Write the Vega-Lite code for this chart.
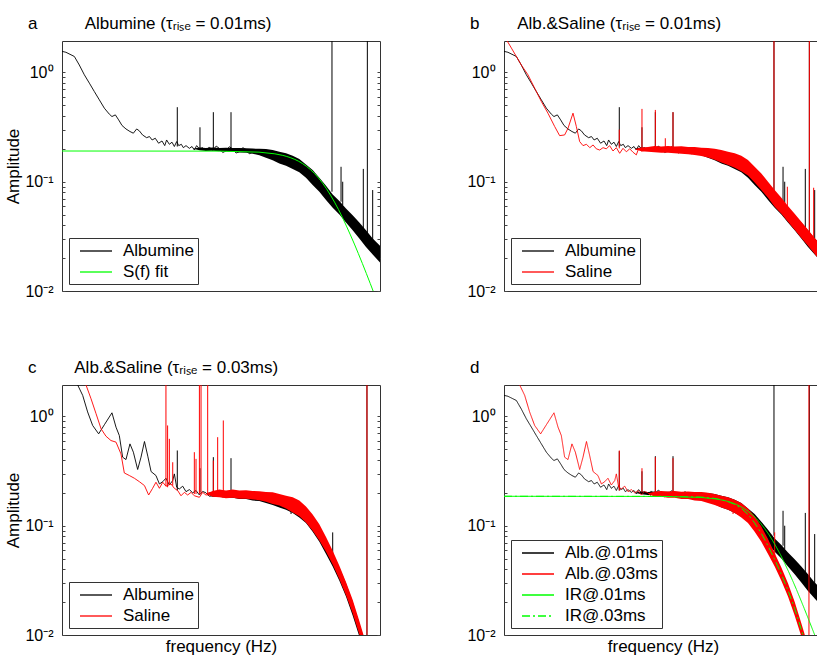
{
  "$schema": "https://vega.github.io/schema/vega-lite/v6.json",
  "background": "white",
  "padding": {"left": 4, "top": 14, "right": 0, "bottom": 4},
  "config": {
    "font": "Liberation Sans",
    "view": {"stroke": "#333", "strokeWidth": 1},
    "title": {"font": "Liberation Sans", "fontSize": 17, "fontWeight": "normal", "anchor": "start", "frame": "group", "dx": -34, "offset": 8, "color": "#000"},
    "axis": {"labelFont": "Liberation Sans", "titleFont": "Liberation Sans", "labelColor": "#000", "titleColor": "#000", "titleFontWeight": "normal", "grid": false},
    "axisX": {"labels": false, "ticks": false, "domain": false, "grid": false, "titleFontSize": 17, "titlePadding": 3, "titleColor": "#000"},
    "legend": {"orient": "bottom-left", "offset": 7, "padding": 4, "strokeColor": "#333", "fillColor": "#fff", "labelFont": "Liberation Sans", "labelFontSize": 17, "labelColor": "#000", "symbolType": "M-0.25,0H3.75", "symbolSize": 256, "symbolStrokeWidth": 1.3, "labelOffset": 32, "rowPadding": 4, "labelLimit": 300}
  },
  "datasets": {
    "alb01_line": [{"f":10,"a":1.56},{"f":11.2,"a":1.53},{"f":14.3,"a":1.40},{"f":16.5,"a":1.17},{"f":19.1,"a":0.952},{"f":22.1,"a":0.798},{"f":25.5,"a":0.669},{"f":29.5,"a":0.561},{"f":34.1,"a":0.471},{"f":39.4,"a":0.415},{"f":42.5,"a":0.395},{"f":46.9,"a":0.409},{"f":51.6,"a":0.368},{"f":56.9,"a":0.327},{"f":63.8,"a":0.304},{"f":71.6,"a":0.288},{"f":79.0,"a":0.278},{"f":86.9,"a":0.304},{"f":94.0,"a":0.292},{"f":103,"a":0.268},{"f":116,"a":0.253},{"f":126,"a":0.259},{"f":136,"a":0.241},{"f":149,"a":0.250},{"f":164,"a":0.225},{"f":181,"a":0.236},{"f":196,"a":0.214},{"f":207,"a":0.241},{"f":224,"a":0.220},{"f":242,"a":0.230},{"f":259,"a":0.210},{"f":277,"a":0.233},{"f":294,"a":0.214},{"f":317,"a":0.220},{"f":336,"a":0.205},{"f":363,"a":0.214},{"f":400,"a":0.202},{"f":432,"a":0.210},{"f":462,"a":0.195},{"f":494,"a":0.214},{"f":535,"a":0.200},{"f":588,"a":0.205},{"f":647,"a":0.191},{"f":713,"a":0.208},{"f":785,"a":0.193},{"f":870,"a":0.212},{"f":953,"a":0.202},{"f":1050,"a":0.185},{"f":1156,"a":0.191},{"f":1270,"a":0.209},{"f":1403,"a":0.200},{"f":1545,"a":0.183},{"f":1702,"a":0.188},{"f":1875,"a":0.205},{"f":2065,"a":0.197},{"f":2270,"a":0.180},{"f":2500,"a":0.186},{"f":2754,"a":0.198},{"f":3034,"a":0.188},{"f":3342,"a":0.180},{"f":3681,"a":0.182},{"f":4055,"a":0.186},{"f":4467,"a":0.176},{"f":5420,"a":0.166},{"f":6577,"a":0.158},{"f":7980,"a":0.150},{"f":9660,"a":0.140},{"f":11720,"a":0.125},{"f":14220,"a":0.109},{"f":17260,"a":0.0932},{"f":20940,"a":0.0781},{"f":25410,"a":0.0665},{"f":30830,"a":0.0577},{"f":37330,"a":0.0494},{"f":45290,"a":0.0424},{"f":54950,"a":0.0353},{"f":66680,"a":0.0302},{"f":80910,"a":0.0253},{"f":100000,"a":0.0216}],
    "alb01_band": [{"f":441,"hi":0.200,"lo":0.200},{"f":535,"hi":0.206,"lo":0.194},{"f":647,"hi":0.203,"lo":0.191},{"f":785,"hi":0.206,"lo":0.192},{"f":953,"hi":0.204,"lo":0.190},{"f":1156,"hi":0.205,"lo":0.189},{"f":1403,"hi":0.204,"lo":0.188},{"f":1702,"hi":0.203,"lo":0.185},{"f":2065,"hi":0.202,"lo":0.184},{"f":2500,"hi":0.201,"lo":0.180},{"f":3034,"hi":0.200,"lo":0.175},{"f":3681,"hi":0.199,"lo":0.166},{"f":4467,"hi":0.195,"lo":0.157},{"f":5420,"hi":0.188,"lo":0.147},{"f":6577,"hi":0.182,"lo":0.140},{"f":7980,"hi":0.173,"lo":0.131},{"f":9660,"hi":0.161,"lo":0.122},{"f":11720,"hi":0.144,"lo":0.109},{"f":14220,"hi":0.128,"lo":0.0932},{"f":17260,"hi":0.109,"lo":0.0810},{"f":20940,"hi":0.0919,"lo":0.0679},{"f":25410,"hi":0.0766,"lo":0.0577},{"f":30830,"hi":0.0665,"lo":0.0501},{"f":37330,"hi":0.0569,"lo":0.0424},{"f":45290,"hi":0.0494,"lo":0.0360},{"f":54950,"hi":0.0424,"lo":0.0302},{"f":66680,"hi":0.0360,"lo":0.0253},{"f":80910,"hi":0.0302,"lo":0.0216},{"f":100000,"hi":0.0259,"lo":0.0182}],
    "alb01_spk": [{"f":282,"b":0.210,"p":0.481},{"f":544,"b":0.202,"p":0.315},{"f":801,"b":0.202,"p":0.433},{"f":1336,"b":0.202,"p":0.433},{"f":24890,"b":0.081,"p":3},{"f":32360,"b":0.0656,"p":0.137},{"f":33960,"b":0.0611,"p":0.100},{"f":61660,"b":0.0324,"p":0.131},{"f":69340,"b":0.029,"p":3},{"f":80910,"b":0.0272,"p":0.0839}],
    "sal01_line": [{"f":10.4,"a":2.07},{"f":12.4,"a":1.67},{"f":14.3,"a":1.40},{"f":16.5,"a":1.17},{"f":20.0,"a":0.952},{"f":24.3,"a":0.718},{"f":29.5,"a":0.542},{"f":35.7,"a":0.424},{"f":43.4,"a":0.320},{"f":50.1,"a":0.264},{"f":57.9,"a":0.268},{"f":63.8,"a":0.308},{"f":73.8,"a":0.424},{"f":81.3,"a":0.320},{"f":89.5,"a":0.233},{"f":98.6,"a":0.214},{"f":109,"a":0.220},{"f":120,"a":0.205},{"f":132,"a":0.217},{"f":145,"a":0.200},{"f":160,"a":0.195},{"f":176,"a":0.205},{"f":194,"a":0.200},{"f":213,"a":0.214},{"f":235,"a":0.191},{"f":259,"a":0.205},{"f":285,"a":0.182},{"f":314,"a":0.202},{"f":346,"a":0.188},{"f":381,"a":0.200},{"f":420,"a":0.186},{"f":462,"a":0.176},{"f":494,"a":0.202},{"f":535,"a":0.191},{"f":647,"a":0.195},{"f":785,"a":0.200},{"f":953,"a":0.193},{"f":1156,"a":0.200},{"f":1403,"a":0.193},{"f":1702,"a":0.197},{"f":2065,"a":0.191},{"f":2500,"a":0.193},{"f":3034,"a":0.188},{"f":3681,"a":0.186},{"f":4467,"a":0.178},{"f":5420,"a":0.173},{"f":6577,"a":0.166},{"f":7980,"a":0.158},{"f":9660,"a":0.148},{"f":11720,"a":0.134},{"f":14220,"a":0.117},{"f":17260,"a":0.100},{"f":20940,"a":0.0839},{"f":25410,"a":0.0703},{"f":30830,"a":0.0600},{"f":37330,"a":0.0509},{"f":45290,"a":0.0430},{"f":54950,"a":0.0364},{"f":66680,"a":0.0306},{"f":80910,"a":0.0259},{"f":100000,"a":0.0216}],
    "sal01_band": [{"f":441,"hi":0.198,"lo":0.198},{"f":535,"hi":0.206,"lo":0.190},{"f":647,"hi":0.208,"lo":0.188},{"f":785,"hi":0.212,"lo":0.186},{"f":953,"hi":0.210,"lo":0.184},{"f":1156,"hi":0.212,"lo":0.184},{"f":1403,"hi":0.210,"lo":0.182},{"f":1702,"hi":0.211,"lo":0.180},{"f":2065,"hi":0.208,"lo":0.178},{"f":2500,"hi":0.208,"lo":0.176},{"f":3034,"hi":0.205,"lo":0.172},{"f":3681,"hi":0.203,"lo":0.167},{"f":4467,"hi":0.200,"lo":0.159},{"f":5420,"hi":0.195,"lo":0.150},{"f":6577,"hi":0.188,"lo":0.142},{"f":7980,"hi":0.182,"lo":0.134},{"f":9660,"hi":0.173,"lo":0.125},{"f":11720,"hi":0.158,"lo":0.114},{"f":14220,"hi":0.137,"lo":0.0986},{"f":17260,"hi":0.119,"lo":0.0839},{"f":20940,"hi":0.100,"lo":0.0713},{"f":25410,"hi":0.0839,"lo":0.0590},{"f":30830,"hi":0.0713,"lo":0.0509},{"f":37330,"hi":0.0600,"lo":0.0430},{"f":45290,"hi":0.0509,"lo":0.0364},{"f":54950,"hi":0.0430,"lo":0.0306},{"f":66680,"hi":0.0364,"lo":0.0259},{"f":80910,"hi":0.0306,"lo":0.0218},{"f":100000,"hi":0.0259,"lo":0.0178}],
    "sal01_spk": [{"f":282,"b":0.202,"p":0.30},{"f":544,"b":0.202,"p":0.464},{"f":801,"b":0.202,"p":0.454},{"f":1069,"b":0.202,"p":0.250},{"f":1336,"b":0.202,"p":0.433},{"f":24890,"b":0.081,"p":3},{"f":36650,"b":0.055,"p":0.0900},{"f":69340,"b":0.0302,"p":3},{"f":78560,"b":0.0282,"p":0.0881}],
    "alb03_line": [{"f":15.0,"a":2.07},{"f":15.7,"a":1.95},{"f":18.2,"a":1.56},{"f":21.0,"a":1.10},{"f":24.3,"a":0.827},{"f":28.9,"a":0.693},{"f":34.1,"a":0.839},{"f":42.5,"a":1.08},{"f":47.8,"a":0.798},{"f":52.6,"a":0.669},{"f":57.9,"a":0.424},{"f":63.8,"a":0.403},{"f":71.6,"a":0.561},{"f":79.0,"a":0.471},{"f":89.5,"a":0.327},{"f":98.6,"a":0.424},{"f":109,"a":0.590},{"f":120,"a":0.433},{"f":132,"a":0.313},{"f":152,"a":0.288},{"f":168,"a":0.241},{"f":185,"a":0.253},{"f":203,"a":0.272},{"f":224,"a":0.236},{"f":247,"a":0.259},{"f":259,"a":0.298},{"f":277,"a":0.225},{"f":299,"a":0.217},{"f":330,"a":0.230},{"f":363,"a":0.205},{"f":400,"a":0.214},{"f":441,"a":0.200},{"f":485,"a":0.210},{"f":535,"a":0.191},{"f":588,"a":0.206},{"f":647,"a":0.200},{"f":713,"a":0.186},{"f":785,"a":0.188},{"f":870,"a":0.205},{"f":953,"a":0.195},{"f":1050,"a":0.184},{"f":1156,"a":0.191},{"f":1403,"a":0.195},{"f":1702,"a":0.188},{"f":2065,"a":0.191},{"f":2500,"a":0.186},{"f":3034,"a":0.186},{"f":3681,"a":0.181},{"f":4467,"a":0.176},{"f":5420,"a":0.170},{"f":6577,"a":0.161},{"f":7980,"a":0.153},{"f":9660,"a":0.140},{"f":11720,"a":0.124},{"f":14220,"a":0.104},{"f":17260,"a":0.0839},{"f":20940,"a":0.0646},{"f":25410,"a":0.0488},{"f":30830,"a":0.0360},{"f":37330,"a":0.0259},{"f":45290,"a":0.0174},{"f":54950,"a":0.0111},{"f":60530,"a":0.0088}],
    "alb03_band": [{"f":647,"hi":0.198,"lo":0.198},{"f":785,"hi":0.205,"lo":0.184},{"f":953,"hi":0.208,"lo":0.184},{"f":1156,"hi":0.206,"lo":0.180},{"f":1403,"hi":0.208,"lo":0.180},{"f":1702,"hi":0.205,"lo":0.176},{"f":2065,"hi":0.206,"lo":0.176},{"f":2500,"hi":0.203,"lo":0.170},{"f":3034,"hi":0.203,"lo":0.168},{"f":3681,"hi":0.200,"lo":0.161},{"f":4467,"hi":0.195,"lo":0.155},{"f":5420,"hi":0.188,"lo":0.147},{"f":6577,"hi":0.182,"lo":0.140},{"f":7980,"hi":0.173,"lo":0.131},{"f":9660,"hi":0.161,"lo":0.119},{"f":11720,"hi":0.144,"lo":0.106},{"f":14220,"hi":0.122,"lo":0.0881},{"f":17260,"hi":0.0986,"lo":0.0713},{"f":20940,"hi":0.0755,"lo":0.0550},{"f":25410,"hi":0.0561,"lo":0.0424},{"f":30830,"hi":0.0415,"lo":0.0313},{"f":37330,"hi":0.0298,"lo":0.0225},{"f":45290,"hi":0.0201,"lo":0.0151},{"f":54950,"hi":0.0128,"lo":0.0097},{"f":66680,"hi":0.0080,"lo":0.0060}],
    "alb03_spk": [{"f":282,"b":0.210,"p":0.488},{"f":544,"b":0.202,"p":0.336},{"f":801,"b":0.202,"p":0.424},{"f":1336,"b":0.202,"p":0.415},{"f":7603,"b":0.128,"p":0.153},{"f":25410,"b":0.049,"p":0.0869},{"f":68550,"b":0.005,"p":3}],
    "sal03_line": [{"f":19.1,"a":2.07},{"f":20.0,"a":1.95},{"f":23.2,"a":1.45},{"f":26.8,"a":1.06},{"f":31.0,"a":0.771},{"f":35.7,"a":0.660},{"f":41.3,"a":0.602},{"f":47.8,"a":0.582},{"f":55.2,"a":0.454},{"f":60.8,"a":0.304},{"f":70.3,"a":0.288},{"f":81.3,"a":0.272},{"f":94.0,"a":0.253},{"f":109,"a":0.233},{"f":123,"a":0.191},{"f":138,"a":0.220},{"f":152,"a":0.250},{"f":168,"a":0.220},{"f":185,"a":0.250},{"f":203,"a":0.230},{"f":235,"a":0.241},{"f":259,"a":0.220},{"f":285,"a":0.210},{"f":314,"a":0.188},{"f":346,"a":0.202},{"f":381,"a":0.191},{"f":420,"a":0.202},{"f":462,"a":0.188},{"f":535,"a":0.182},{"f":588,"a":0.202},{"f":647,"a":0.191},{"f":785,"a":0.193},{"f":953,"a":0.200},{"f":1156,"a":0.193},{"f":1403,"a":0.200},{"f":1702,"a":0.193},{"f":2065,"a":0.195},{"f":2500,"a":0.191},{"f":3034,"a":0.188},{"f":3681,"a":0.185},{"f":4467,"a":0.178},{"f":5420,"a":0.173},{"f":6577,"a":0.164},{"f":7980,"a":0.155},{"f":9660,"a":0.142},{"f":11720,"a":0.127},{"f":14220,"a":0.107},{"f":17260,"a":0.0869},{"f":20940,"a":0.0674},{"f":25410,"a":0.0509},{"f":30830,"a":0.0373},{"f":37330,"a":0.0266},{"f":45290,"a":0.0182},{"f":54950,"a":0.0117},{"f":60530,"a":0.0093}],
    "sal03_band": [{"f":647,"hi":0.196,"lo":0.196},{"f":785,"hi":0.208,"lo":0.184},{"f":953,"hi":0.214,"lo":0.182},{"f":1156,"hi":0.210,"lo":0.178},{"f":1403,"hi":0.214,"lo":0.180},{"f":1702,"hi":0.210,"lo":0.177},{"f":2065,"hi":0.211,"lo":0.177},{"f":2500,"hi":0.208,"lo":0.174},{"f":3034,"hi":0.207,"lo":0.171},{"f":3681,"hi":0.204,"lo":0.166},{"f":4467,"hi":0.202,"lo":0.158},{"f":5420,"hi":0.195,"lo":0.153},{"f":6577,"hi":0.188,"lo":0.144},{"f":7980,"hi":0.182,"lo":0.132},{"f":9660,"hi":0.170,"lo":0.122},{"f":11720,"hi":0.150,"lo":0.107},{"f":14220,"hi":0.127,"lo":0.0900},{"f":17260,"hi":0.103,"lo":0.0733},{"f":20940,"hi":0.0787,"lo":0.0577},{"f":25410,"hi":0.0590,"lo":0.0442},{"f":30830,"hi":0.0430,"lo":0.0324},{"f":37330,"hi":0.0306,"lo":0.0231},{"f":45290,"hi":0.0210,"lo":0.0158},{"f":54950,"hi":0.0134,"lo":0.0101},{"f":66680,"hi":0.0084,"lo":0.0063}],
    "sal03_spk": [{"f":203,"b":0.230,"p":3},{"f":213,"b":0.225,"p":0.827},{"f":224,"b":0.241,"p":0.624},{"f":247,"b":0.233,"p":0.381},{"f":462,"b":0.195,"p":0.471},{"f":485,"b":0.195,"p":0.409},{"f":535,"b":0.195,"p":3},{"f":561,"b":0.195,"p":3},{"f":680,"b":0.195,"p":3},{"f":801,"b":0.195,"p":0.395},{"f":908,"b":0.200,"p":0.646},{"f":1069,"b":0.200,"p":0.919},{"f":68550,"b":0.005,"p":3}],
    "ir01a": [{"f":10,"a":0.191},{"f":950,"a":0.1905},{"f":3004,"a":0.1865},{"f":4761,"a":0.180},{"f":5995,"a":0.1742},{"f":6725,"a":0.1702},{"f":7546,"a":0.1656},{"f":8467,"a":0.1601},{"f":9500,"a":0.1537},{"f":10659,"a":0.1462},{"f":11960,"a":0.1379},{"f":13419,"a":0.1286},{"f":15057,"a":0.1186},{"f":16894,"a":0.1080},{"f":18955,"a":0.0970},{"f":21268,"a":0.0861},{"f":23863,"a":0.0753},{"f":26775,"a":0.0651},{"f":30042,"a":0.0557},{"f":33707,"a":0.0470},{"f":37820,"a":0.0393},{"f":42435,"a":0.0326},{"f":47613,"a":0.0269},{"f":53422,"a":0.0220},{"f":59941,"a":0.0179},{"f":67255,"a":0.0145},{"f":75461,"a":0.0117},{"f":84669,"a":0.0094},{"f":95000,"a":0.0076}],
    "ir01d": [{"f":10,"a":0.186},{"f":950,"a":0.1855},{"f":3004,"a":0.1816},{"f":4761,"a":0.1753},{"f":5995,"a":0.1697},{"f":6725,"a":0.1658},{"f":7546,"a":0.1613},{"f":8467,"a":0.1559},{"f":9500,"a":0.1497},{"f":10659,"a":0.1424},{"f":11960,"a":0.1343},{"f":13419,"a":0.1252},{"f":15057,"a":0.1155},{"f":16894,"a":0.1052},{"f":18955,"a":0.0945},{"f":21268,"a":0.0839},{"f":23863,"a":0.0733},{"f":26775,"a":0.0634},{"f":30042,"a":0.0543},{"f":33707,"a":0.0458},{"f":37820,"a":0.0383},{"f":42435,"a":0.0318},{"f":47613,"a":0.0262},{"f":53422,"a":0.0214},{"f":59941,"a":0.0174},{"f":67255,"a":0.0141},{"f":75461,"a":0.0114},{"f":84669,"a":0.0092},{"f":95000,"a":0.0074}],
    "ir03": [{"f":10,"a":0.186},{"f":1000,"a":0.1855},{"f":3034,"a":0.183},{"f":4467,"a":0.178},{"f":5420,"a":0.173},{"f":6577,"a":0.166},{"f":7980,"a":0.157},{"f":9660,"a":0.144},{"f":11720,"a":0.127},{"f":14220,"a":0.106},{"f":17260,"a":0.0849},{"f":20940,"a":0.0655},{"f":25410,"a":0.0490},{"f":30830,"a":0.0358},{"f":37330,"a":0.0256},{"f":45290,"a":0.0175},{"f":54950,"a":0.0112},{"f":60530,"a":0.0089},{"f":66680,"a":0.0070}]
  },
  "columns": 2,
  "spacing": {"row": 58, "column": 85},
  "resolve": {"scale": {"color": "independent", "stroke": "independent", "strokeDash": "independent", "x": "independent", "y": "independent"}, "legend": {"color": "independent", "stroke": "independent", "strokeDash": "independent"}},
  "concat": [
    {
      "width": 318, "height": 250,
      "title": {"text": "a\u00a0\u00a0\u00a0\u00a0\u00a0\u00a0\u00a0\u00a0\u00a0\u00a0Albumine (τᵣᵢₛₑ = 0.01ms)"},
      "resolve": {"axis": {"x": "shared", "y": "independent"}},
      "layer": [
        {"data": {"name": "alb01_line"}, "mark": {"type": "line", "strokeWidth": 0.9, "clip": true},
         "encoding": {
           "x": {"field": "f", "type": "quantitative", "title": null, "scale": {"type": "log", "domain": [10, 100000], "nice": false}},
           "y": {"field": "a", "type": "quantitative", "scale": {"type": "log", "domain": [0.01, 1.94], "nice": false}, "axis": {"title": "Amplitude", "orient": "left", "values": [0.01,0.02,0.03,0.04,0.05,0.06,0.07,0.08,0.09,0.1,0.2,0.3,0.4,0.5,0.6,0.7,0.8,0.9,1], "labelExpr": "datum.value==1?'10⁰':(datum.value==0.1?'10⁻¹':(datum.value==0.01?'10⁻²':''))", "labelOverlap": false, "labelFlush": false, "labelFontSize": 16, "labelPadding": 12, "tickSize": -3, "tickColor": "#444", "domain": false, "titleFontSize": 17, "titlePadding": 2}},
           "stroke": {"datum": "Albumine", "scale": {"domain": ["Albumine", "S(f) fit"], "range": ["#000000", "#00ff00"]}, "legend": {"title": null, "encode": {"symbols": {"update": {"stroke": {"signal": "datum.value === 'S(f) fit' ? '#00ff00' : '#000000'"}}}}}}
         }},
        {"data": {"name": "alb01_band"}, "mark": {"type": "area", "color": "#000000", "clip": true},
         "encoding": {
           "x": {"field": "f", "type": "quantitative", "title": null, "scale": {"type": "log", "domain": [10, 100000], "nice": false}},
           "y": {"field": "lo", "type": "quantitative", "scale": {"type": "log", "domain": [0.01, 1.94], "nice": false}, "axis": {"title": null, "orient": "right", "values": [0.01,0.02,0.03,0.04,0.05,0.06,0.07,0.08,0.09,0.1,0.2,0.3,0.4,0.5,0.6,0.7,0.8,0.9,1], "labels": false, "tickSize": -3, "tickColor": "#444", "domain": false}},
           "y2": {"field": "hi"}
         }},
        {"data": {"name": "alb01_spk"}, "mark": {"type": "rule", "color": "#000000", "strokeWidth": 1, "clip": true},
         "encoding": {
           "x": {"field": "f", "type": "quantitative", "title": null, "scale": {"type": "log", "domain": [10, 100000], "nice": false}},
           "y": {"field": "b", "type": "quantitative", "scale": {"type": "log", "domain": [0.01, 1.94], "nice": false}, "axis": null},
           "y2": {"field": "p"}
         }},
        {"data": {"name": "ir01a"}, "mark": {"type": "line", "strokeWidth": 1, "clip": true},
         "encoding": {
           "x": {"field": "f", "type": "quantitative", "title": null, "scale": {"type": "log", "domain": [10, 100000], "nice": false}},
           "y": {"field": "a", "type": "quantitative", "scale": {"type": "log", "domain": [0.01, 1.94], "nice": false}, "axis": null},
           "stroke": {"datum": "S(f) fit"}
         }}
      ]
    },
    {
      "width": 318, "height": 250,
      "title": {"text": "b\u00a0\u00a0\u00a0\u00a0\u00a0\u00a0\u00a0\u00a0Alb.&Saline (τᵣᵢₛₑ = 0.01ms)"},
      "resolve": {"axis": {"x": "shared", "y": "independent"}},
      "layer": [
        {"data": {"name": "alb01_line"}, "mark": {"type": "line", "strokeWidth": 0.9, "clip": true},
         "encoding": {
           "x": {"field": "f", "type": "quantitative", "title": null, "scale": {"type": "log", "domain": [10, 100000], "nice": false}},
           "y": {"field": "a", "type": "quantitative", "scale": {"type": "log", "domain": [0.01, 1.94], "nice": false}, "axis": {"title": null, "orient": "left", "values": [0.01,0.02,0.03,0.04,0.05,0.06,0.07,0.08,0.09,0.1,0.2,0.3,0.4,0.5,0.6,0.7,0.8,0.9,1], "labelExpr": "datum.value==1?'10⁰':(datum.value==0.1?'10⁻¹':(datum.value==0.01?'10⁻²':''))", "labelOverlap": false, "labelFlush": false, "labelFontSize": 16, "labelPadding": 12, "tickSize": -3, "tickColor": "#444", "domain": false}},
           "stroke": {"datum": "Albumine", "scale": {"domain": ["Albumine", "Saline"], "range": ["#000000", "#ff0000"]}, "legend": {"title": null, "encode": {"symbols": {"update": {"stroke": {"signal": "datum.value === 'Saline' ? '#ff0000' : '#000000'"}}}}}}
         }},
        {"data": {"name": "alb01_band"}, "mark": {"type": "area", "color": "#000000", "clip": true},
         "encoding": {
           "x": {"field": "f", "type": "quantitative", "title": null, "scale": {"type": "log", "domain": [10, 100000], "nice": false}},
           "y": {"field": "lo", "type": "quantitative", "scale": {"type": "log", "domain": [0.01, 1.94], "nice": false}, "axis": {"title": null, "orient": "right", "values": [0.01,0.02,0.03,0.04,0.05,0.06,0.07,0.08,0.09,0.1,0.2,0.3,0.4,0.5,0.6,0.7,0.8,0.9,1], "labels": false, "tickSize": -3, "tickColor": "#444", "domain": false}},
           "y2": {"field": "hi"}
         }},
        {"data": {"name": "alb01_spk"}, "mark": {"type": "rule", "color": "#000000", "strokeWidth": 1, "clip": true},
         "encoding": {
           "x": {"field": "f", "type": "quantitative", "title": null, "scale": {"type": "log", "domain": [10, 100000], "nice": false}},
           "y": {"field": "b", "type": "quantitative", "scale": {"type": "log", "domain": [0.01, 1.94], "nice": false}, "axis": null},
           "y2": {"field": "p"}
         }},
        {"data": {"name": "sal01_line"}, "mark": {"type": "line", "strokeWidth": 0.9, "clip": true},
         "encoding": {
           "x": {"field": "f", "type": "quantitative", "title": null, "scale": {"type": "log", "domain": [10, 100000], "nice": false}},
           "y": {"field": "a", "type": "quantitative", "scale": {"type": "log", "domain": [0.01, 1.94], "nice": false}, "axis": null},
           "stroke": {"datum": "Saline"}
         }},
        {"data": {"name": "sal01_band"}, "mark": {"type": "area", "color": "#ff0000", "clip": true},
         "encoding": {
           "x": {"field": "f", "type": "quantitative", "title": null, "scale": {"type": "log", "domain": [10, 100000], "nice": false}},
           "y": {"field": "lo", "type": "quantitative", "scale": {"type": "log", "domain": [0.01, 1.94], "nice": false}, "axis": null},
           "y2": {"field": "hi"}
         }},
        {"data": {"name": "sal01_spk"}, "mark": {"type": "rule", "color": "#ff0000", "strokeWidth": 1, "clip": true},
         "encoding": {
           "x": {"field": "f", "type": "quantitative", "title": null, "scale": {"type": "log", "domain": [10, 100000], "nice": false}},
           "y": {"field": "b", "type": "quantitative", "scale": {"type": "log", "domain": [0.01, 1.94], "nice": false}, "axis": null},
           "y2": {"field": "p"}
         }}
      ]
    },
    {
      "width": 318, "height": 250,
      "title": {"text": "c\u00a0\u00a0\u00a0\u00a0\u00a0\u00a0\u00a0\u00a0Alb.&Saline (τᵣᵢₛₑ = 0.03ms)"},
      "resolve": {"axis": {"x": "shared", "y": "independent"}},
      "layer": [
        {"data": {"name": "alb03_line"}, "mark": {"type": "line", "strokeWidth": 0.9, "clip": true},
         "encoding": {
           "x": {"field": "f", "type": "quantitative", "title": "frequency (Hz)", "scale": {"type": "log", "domain": [10, 100000], "nice": false}},
           "y": {"field": "a", "type": "quantitative", "scale": {"type": "log", "domain": [0.01, 1.94], "nice": false}, "axis": {"title": "Amplitude", "orient": "left", "values": [0.01,0.02,0.03,0.04,0.05,0.06,0.07,0.08,0.09,0.1,0.2,0.3,0.4,0.5,0.6,0.7,0.8,0.9,1], "labelExpr": "datum.value==1?'10⁰':(datum.value==0.1?'10⁻¹':(datum.value==0.01?'10⁻²':''))", "labelOverlap": false, "labelFlush": false, "labelFontSize": 16, "labelPadding": 12, "tickSize": -3, "tickColor": "#444", "domain": false, "titleFontSize": 17, "titlePadding": 2}},
           "color": {"datum": "Albumine", "scale": {"domain": ["Albumine", "Saline"], "range": ["#000000", "#ff0000"]}, "legend": {"title": null, "encode": {"symbols": {"update": {"stroke": {"signal": "datum.value === 'Saline' ? '#ff0000' : '#000000'"}}}}}}
         }},
        {"data": {"name": "alb03_band"}, "mark": {"type": "area", "color": "#000000", "clip": true},
         "encoding": {
           "x": {"field": "f", "type": "quantitative", "title": "frequency (Hz)", "scale": {"type": "log", "domain": [10, 100000], "nice": false}},
           "y": {"field": "lo", "type": "quantitative", "scale": {"type": "log", "domain": [0.01, 1.94], "nice": false}, "axis": {"title": null, "orient": "right", "values": [0.01,0.02,0.03,0.04,0.05,0.06,0.07,0.08,0.09,0.1,0.2,0.3,0.4,0.5,0.6,0.7,0.8,0.9,1], "labels": false, "tickSize": -3, "tickColor": "#444", "domain": false}},
           "y2": {"field": "hi"}
         }},
        {"data": {"name": "alb03_spk"}, "mark": {"type": "rule", "color": "#000000", "strokeWidth": 1, "clip": true},
         "encoding": {
           "x": {"field": "f", "type": "quantitative", "title": "frequency (Hz)", "scale": {"type": "log", "domain": [10, 100000], "nice": false}},
           "y": {"field": "b", "type": "quantitative", "scale": {"type": "log", "domain": [0.01, 1.94], "nice": false}, "axis": null},
           "y2": {"field": "p"}
         }},
        {"data": {"name": "sal03_line"}, "mark": {"type": "line", "strokeWidth": 0.9, "clip": true},
         "encoding": {
           "x": {"field": "f", "type": "quantitative", "title": "frequency (Hz)", "scale": {"type": "log", "domain": [10, 100000], "nice": false}},
           "y": {"field": "a", "type": "quantitative", "scale": {"type": "log", "domain": [0.01, 1.94], "nice": false}, "axis": null},
           "color": {"datum": "Saline"}
         }},
        {"data": {"name": "sal03_band"}, "mark": {"type": "area", "color": "#ff0000", "clip": true},
         "encoding": {
           "x": {"field": "f", "type": "quantitative", "title": "frequency (Hz)", "scale": {"type": "log", "domain": [10, 100000], "nice": false}},
           "y": {"field": "lo", "type": "quantitative", "scale": {"type": "log", "domain": [0.01, 1.94], "nice": false}, "axis": null},
           "y2": {"field": "hi"}
         }},
        {"data": {"name": "sal03_spk"}, "mark": {"type": "rule", "color": "#ff0000", "strokeWidth": 1, "clip": true},
         "encoding": {
           "x": {"field": "f", "type": "quantitative", "title": "frequency (Hz)", "scale": {"type": "log", "domain": [10, 100000], "nice": false}},
           "y": {"field": "b", "type": "quantitative", "scale": {"type": "log", "domain": [0.01, 1.94], "nice": false}, "axis": null},
           "y2": {"field": "p"}
         }}
      ]
    },
    {
      "width": 318, "height": 250,
      "title": {"text": "d"},
      "resolve": {"axis": {"x": "shared", "y": "independent"}},
      "layer": [
        {"data": {"name": "alb01_line"}, "mark": {"type": "line", "strokeWidth": 0.9, "clip": true},
         "encoding": {
           "x": {"field": "f", "type": "quantitative", "title": "frequency (Hz)", "scale": {"type": "log", "domain": [10, 100000], "nice": false}},
           "y": {"field": "a", "type": "quantitative", "scale": {"type": "log", "domain": [0.01, 1.94], "nice": false}, "axis": {"title": null, "orient": "left", "values": [0.01,0.02,0.03,0.04,0.05,0.06,0.07,0.08,0.09,0.1,0.2,0.3,0.4,0.5,0.6,0.7,0.8,0.9,1], "labelExpr": "datum.value==1?'10⁰':(datum.value==0.1?'10⁻¹':(datum.value==0.01?'10⁻²':''))", "labelOverlap": false, "labelFlush": false, "labelFontSize": 16, "labelPadding": 12, "tickSize": -3, "tickColor": "#444", "domain": false}},
           "color": {"datum": "Alb.@.01ms", "scale": {"domain": ["Alb.@.01ms", "Alb.@.03ms", "IR@.01ms", "IR@.03ms"], "range": ["#000000", "#ff0000", "#00ff00", "#00ff00"]}, "legend": {"title": null, "encode": {"symbols": {"update": {"stroke": {"signal": "datum.value === 'Alb.@.03ms' ? '#ff0000' : (datum.value === 'Alb.@.01ms' ? '#000000' : '#00ff00')"}, "strokeDash": {"signal": "datum.value === 'IR@.03ms' ? [8,3,2,3] : [1,0]"}}}}}},
           "strokeDash": {"datum": "Alb.@.01ms", "scale": {"domain": ["Alb.@.01ms", "Alb.@.03ms", "IR@.01ms", "IR@.03ms"], "range": [[1, 0], [1, 0], [1, 0], [8, 3, 2, 3]]}, "legend": {"title": null, "encode": {"symbols": {"update": {"stroke": {"signal": "datum.value === 'Alb.@.03ms' ? '#ff0000' : (datum.value === 'Alb.@.01ms' ? '#000000' : '#00ff00')"}, "strokeDash": {"signal": "datum.value === 'IR@.03ms' ? [8,3,2,3] : [1,0]"}}}}}}
         }},
        {"data": {"name": "alb01_band"}, "mark": {"type": "area", "color": "#000000", "clip": true},
         "encoding": {
           "x": {"field": "f", "type": "quantitative", "title": "frequency (Hz)", "scale": {"type": "log", "domain": [10, 100000], "nice": false}},
           "y": {"field": "lo", "type": "quantitative", "scale": {"type": "log", "domain": [0.01, 1.94], "nice": false}, "axis": {"title": null, "orient": "right", "values": [0.01,0.02,0.03,0.04,0.05,0.06,0.07,0.08,0.09,0.1,0.2,0.3,0.4,0.5,0.6,0.7,0.8,0.9,1], "labels": false, "tickSize": -3, "tickColor": "#444", "domain": false}},
           "y2": {"field": "hi"}
         }},
        {"data": {"name": "alb01_spk"}, "mark": {"type": "rule", "color": "#000000", "strokeWidth": 1, "clip": true},
         "encoding": {
           "x": {"field": "f", "type": "quantitative", "title": "frequency (Hz)", "scale": {"type": "log", "domain": [10, 100000], "nice": false}},
           "y": {"field": "b", "type": "quantitative", "scale": {"type": "log", "domain": [0.01, 1.94], "nice": false}, "axis": null},
           "y2": {"field": "p"}
         }},
        {"data": {"name": "alb03_line"}, "mark": {"type": "line", "strokeWidth": 0.9, "clip": true},
         "encoding": {
           "x": {"field": "f", "type": "quantitative", "title": "frequency (Hz)", "scale": {"type": "log", "domain": [10, 100000], "nice": false}},
           "y": {"field": "a", "type": "quantitative", "scale": {"type": "log", "domain": [0.01, 1.94], "nice": false}, "axis": null},
           "color": {"datum": "Alb.@.03ms"},
           "strokeDash": {"datum": "Alb.@.03ms"}
         }},
        {"data": {"name": "alb03_band"}, "mark": {"type": "area", "color": "#ff0000", "clip": true},
         "encoding": {
           "x": {"field": "f", "type": "quantitative", "title": "frequency (Hz)", "scale": {"type": "log", "domain": [10, 100000], "nice": false}},
           "y": {"field": "lo", "type": "quantitative", "scale": {"type": "log", "domain": [0.01, 1.94], "nice": false}, "axis": null},
           "y2": {"field": "hi"}
         }},
        {"data": {"name": "alb03_spk"}, "mark": {"type": "rule", "color": "#ff0000", "strokeWidth": 1, "clip": true},
         "encoding": {
           "x": {"field": "f", "type": "quantitative", "title": "frequency (Hz)", "scale": {"type": "log", "domain": [10, 100000], "nice": false}},
           "y": {"field": "b", "type": "quantitative", "scale": {"type": "log", "domain": [0.01, 1.94], "nice": false}, "axis": null},
           "y2": {"field": "p"}
         }},
        {"data": {"name": "ir01d"}, "mark": {"type": "line", "strokeWidth": 1, "clip": true},
         "encoding": {
           "x": {"field": "f", "type": "quantitative", "title": "frequency (Hz)", "scale": {"type": "log", "domain": [10, 100000], "nice": false}},
           "y": {"field": "a", "type": "quantitative", "scale": {"type": "log", "domain": [0.01, 1.94], "nice": false}, "axis": null},
           "color": {"datum": "IR@.01ms"},
           "strokeDash": {"datum": "IR@.01ms"}
         }},
        {"data": {"name": "ir03"}, "mark": {"type": "line", "strokeWidth": 1, "clip": true},
         "encoding": {
           "x": {"field": "f", "type": "quantitative", "title": "frequency (Hz)", "scale": {"type": "log", "domain": [10, 100000], "nice": false}},
           "y": {"field": "a", "type": "quantitative", "scale": {"type": "log", "domain": [0.01, 1.94], "nice": false}, "axis": null},
           "color": {"datum": "IR@.03ms"},
           "strokeDash": {"datum": "IR@.03ms"}
         }}
      ]
    }
  ]
}
